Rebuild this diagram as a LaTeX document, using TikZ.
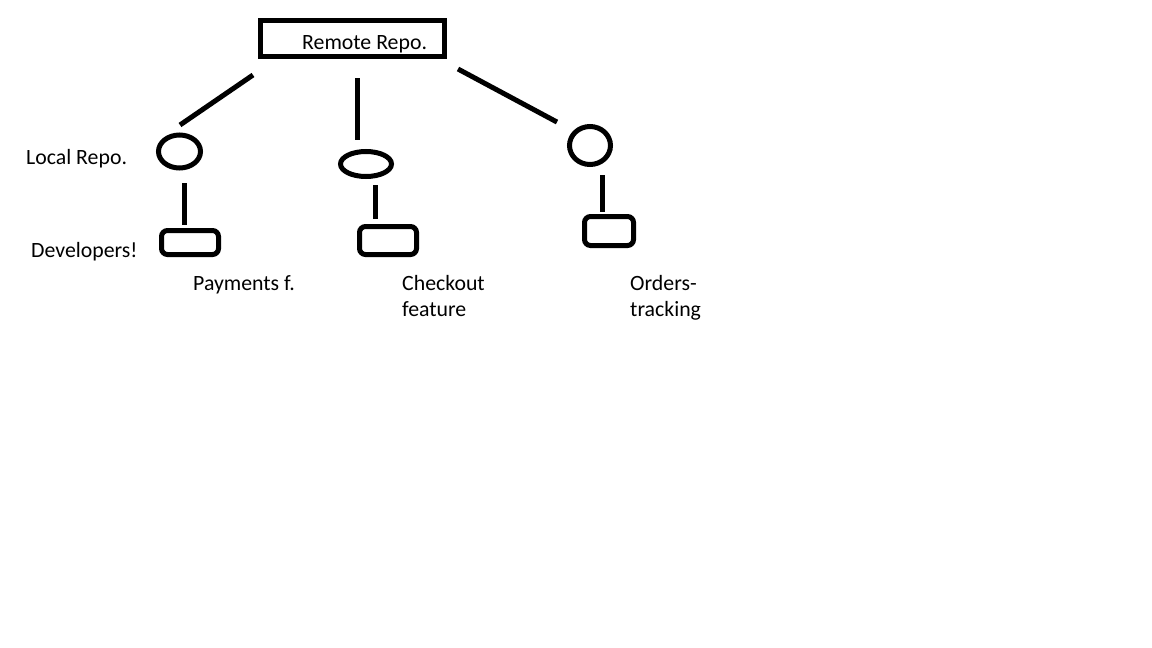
\documentclass[tikz,border=0pt]{standalone}
\usepackage{fontspec}
\setmainfont{Carlito}
\usetikzlibrary{shapes.geometric}

\begin{document}
\begin{tikzpicture}[x=1pt,y=-1pt,
                    pen/.style={line width=5pt},
                    remotebox/.style={pen,draw,rectangle,inner sep=0pt,outer sep=0pt},
                    repo/.style={pen,draw,ellipse,inner sep=0pt,outer sep=0pt},
                    devbox/.style={pen,draw,rectangle,rounded corners=6pt,inner sep=0pt,outer sep=0pt},
                    txt/.style={anchor=base west,inner sep=0pt,font=\fontsize{21.8}{26}\selectfont,align=left}]
                                    \useasboundingbox[fill=white] (0,0) rectangle (1152,648);
% remote
                                    \node[remotebox,minimum width=184pt,minimum height=36pt] (remote) at (352,38) {};
                                    \node[txt] (remotetext) at (302,49.5) {Remote Repo.};

% local repos
                                    \node[repo,minimum width=42pt,minimum height=33pt] (local1) at (179.5,151.5) {};
                                    \node[repo,minimum width=51pt,minimum height=25pt] (local2) at (366,164) {};
                                    \node[repo,minimum width=41pt,minimum height=38pt] (local3) at (590,145.5) {};

% developers
                                    \node[devbox,minimum width=57pt,minimum height=24pt] (dev1) at (190,242.5) {};
                                    \node[devbox,minimum width=57pt,minimum height=28pt] (dev2) at (388,240.5) {};
                                    \node[devbox,minimum width=49pt,minimum height=29pt] (dev3) at (609,231) {};

% links
                                    \draw[pen] ([xshift=-7pt,yshift=-19pt]remote.south west) -- ([xshift=.5pt,yshift=10pt]local1.north);
                                    \draw[pen] ([xshift=5pt,yshift=-22pt]remote.south) -- ([xshift=-9pt,yshift=11.5pt]local2.north);
                                    \draw[pen] ([xshift=14pt,yshift=-13pt]remote.south east) -- ([xshift=-18.5pt,yshift=10pt]local3.north west);
                                    \draw[pen] ([xshift=4.5pt,yshift=-15pt]local1.south) -- ([xshift=-6pt,yshift=5.5pt]dev1.north);
                                    \draw[pen] ([xshift=9pt,yshift=-8.5pt]local2.south) -- ([xshift=-13pt,yshift=7.5pt]dev2.north);
                                    \draw[pen] ([xshift=12pt,yshift=-10.5pt]local3.south) -- ([xshift=-7pt,yshift=4.5pt]dev3.north);

% labels
                                    \node[txt] (localtext) at (26,164) {Local Repo.};
                                    \node[txt] (devtext) at (31,257) {Developers!};
                                    \node[txt] (payments) at (193,290.5) {Payments f.};
                                    \node[txt] (checkout) at (402,316.5) {Checkout\\feature};
                                    \node[txt] (orders) at (630,316.5) {Orders-\\tracking};
                                \end{tikzpicture}
\end{document}
